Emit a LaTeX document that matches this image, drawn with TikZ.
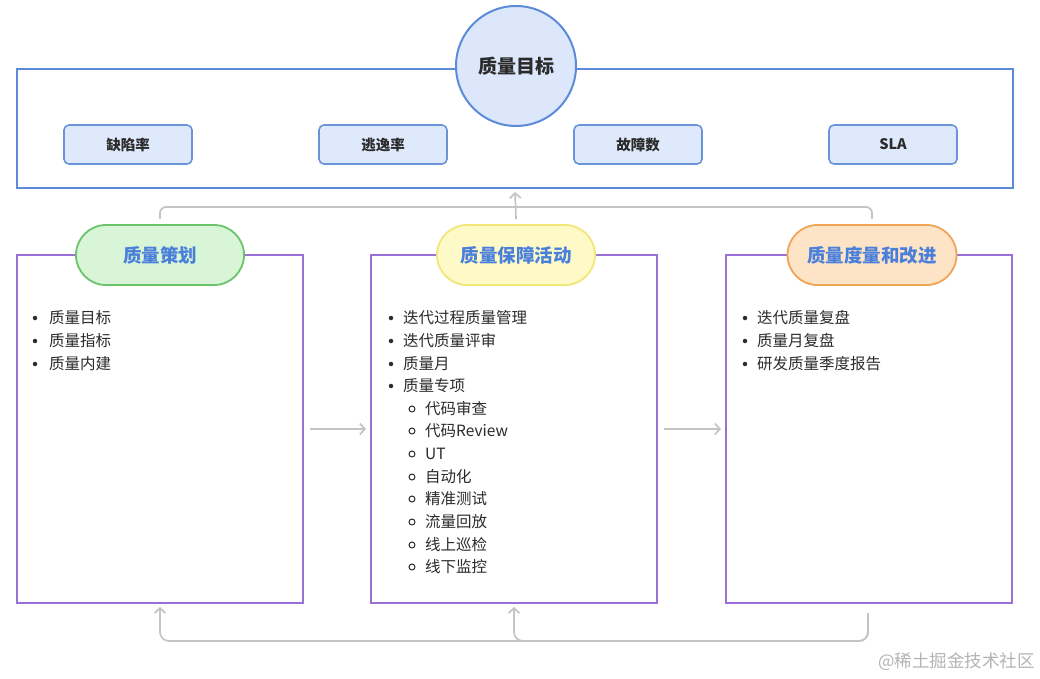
\documentclass[tikz,border=0pt]{standalone}
\usepackage{fontspec}
\setmainfont{Noto Sans CJK SC}
\usetikzlibrary{arrows.meta,calc}
\definecolor{topblue}{HTML}{5B8BD9}
\definecolor{circfill}{HTML}{DCE7FB}
\definecolor{boxfill}{HTML}{DFE9FC}
\definecolor{boxline}{HTML}{6A93DA}
\definecolor{panelline}{HTML}{9A6FD6}
\definecolor{gfill}{HTML}{D9F5D7}
\definecolor{gline}{HTML}{6CC46A}
\definecolor{yfill}{HTML}{FDFAC8}
\definecolor{yline}{HTML}{F1E67A}
\definecolor{ofill}{HTML}{FDE4C7}
\definecolor{oline}{HTML}{EFA556}
\definecolor{pilltext}{HTML}{4A7FDA}
\definecolor{conncol}{HTML}{C4C4C4}
\definecolor{txt}{HTML}{2B2B2B}
\definecolor{wm}{HTML}{B4B4B4}
\tikzset{
  topframe/.style={draw=topblue,line width=2pt,minimum width=996pt,minimum height=119pt,inner sep=0pt},
  goalcircle/.style={circle,draw=topblue,line width=2pt,fill=circfill,minimum size=120pt,inner sep=0pt,font=\fontsize{19pt}{22pt}\selectfont\bfseries,text=txt},
  metric/.style={draw=boxline,line width=1.6pt,fill=boxfill,rounded corners=5pt,minimum width=128pt,minimum height=39pt,inner sep=0pt,font=\fontsize{14.5pt}{17pt}\selectfont\bfseries,text=txt},
  panel/.style={draw=panelline,line width=2pt,minimum width=286pt,minimum height=348pt,inner sep=0pt},
  pill/.style={rounded corners=30pt,line width=1.8pt,minimum height=60pt,inner sep=0pt,font=\fontsize{18.5pt}{22pt}\selectfont\bfseries,text=pilltext},
  item/.style={anchor=west,inner sep=0pt,font=\fontsize{15.5pt}{18pt}\selectfont,text=txt},
  dot/.style={circle,fill=txt,minimum size=4.5pt,inner sep=0pt},
  odot/.style={circle,draw=txt,line width=1pt,minimum size=6pt,inner sep=0pt},
  conn/.style={draw=conncol,line width=1.7pt},
  tip/.style={-{Straight Barb[length=5pt,width=11pt]}},
}
\begin{document}
\begin{tikzpicture}[x=1pt,y=-1pt]
\useasboundingbox[fill=white] (0,0) rectangle (1040,678);
% top frame
\node[topframe] (topbox) at (515,128.5) {};
\node[goalcircle] (goal) at (516,66) {质量目标};
\node[metric] (m1) at (128,144.5) {缺陷率};
\node[metric] (m2) at (383,144.5) {逃逸率};
\node[metric] (m3) at (638,144.5) {故障数};
\node[metric] (m4) at (893,144.5) {SLA};
% panels
\node[panel] (lpanel) at (160,429) {};
\node[panel] (mpanel) at (514,429) {};
\node[panel] (rpanel) at (869,429) {};
% pills
\node[pill,draw=gline,fill=gfill,minimum width=168pt] (lpill) at (160,255) {质量策划};
\node[pill,draw=yline,fill=yfill,minimum width=158pt] (mpill) at (516,255) {质量保障活动};
\node[pill,draw=oline,fill=ofill,minimum width=169pt] (rpill) at (872,255) {质量度量和改进};
% left list
\node[dot] (lb1) at (35,318) {}; \node[item] (l1) at (49,318) {质量目标};
\node[dot] (lb2) at (35,341) {}; \node[item] (l2) at (49,341) {质量指标};
\node[dot] (lb3) at (35,364) {}; \node[item] (l3) at (49,364) {质量内建};
% middle list
\node[dot] (mb1) at (391,318) {}; \node[item] (i1) at (403,318) {迭代过程质量管理};
\node[dot] (mb2) at (391,341) {}; \node[item] (i2) at (403,341) {迭代质量评审};
\node[dot] (mb3) at (391,364) {}; \node[item] (i3) at (403,364) {质量月};
\node[dot] (mb4) at (391,386) {}; \node[item] (i4) at (403,386) {质量专项};
\node[odot] (sb1) at (412,409) {}; \node[item] (s1) at (425,409) {代码审查};
\node[odot] (sb2) at (412,431) {}; \node[item] (s2) at (425,431) {代码Review};
\node[odot] (sb3) at (412,454) {}; \node[item] (s3) at (425,454) {UT};
\node[odot] (sb4) at (412,477) {}; \node[item] (s4) at (425,477) {自动化};
\node[odot] (sb5) at (412,499) {}; \node[item] (s5) at (425,499) {精准测试};
\node[odot] (sb6) at (412,522) {}; \node[item] (s6) at (425,522) {流量回放};
\node[odot] (sb7) at (412,545) {}; \node[item] (s7) at (425,545) {线上巡检};
\node[odot] (sb8) at (412,567) {}; \node[item] (s8) at (425,567) {线下监控};
% right list
\node[dot] (rb1) at (745,318) {}; \node[item] (r1) at (757,318) {迭代质量复盘};
\node[dot] (rb2) at (745,341) {}; \node[item] (r2) at (757,341) {质量月复盘};
\node[dot] (rb3) at (745,364) {}; \node[item] (r3) at (757,364) {研发质量季度报告};
% connectors
\coordinate (jt) at (516,207);
\draw[conn,rounded corners=6pt] ([yshift=5pt]lpill.north) |- (jt) -| ([yshift=5pt]rpill.north);
\draw[conn,tip] ([yshift=5pt]mpill.north) -- ([yshift=-3pt]topbox.south);
\draw[conn,tip] ([xshift=6pt]lpanel.east) -- ([xshift=-4pt]mpanel.west);
\draw[conn,tip] ([xshift=6pt]rpanel.west -| mpanel.east) -- ([xshift=-4pt]rpanel.west);
\coordinate (rs) at ([xshift=-1pt,yshift=-9pt]rpanel.south);
\coordinate (jb) at (514,641);
\draw[conn,rounded corners=9pt,tip] (rs) |- (jb) -- ([yshift=-3pt]mpanel.south);
\draw[conn,rounded corners=9pt,tip] (rs) |- (160,641) -- ([yshift=-3pt]lpanel.south);
% watermark
\node[anchor=east,inner sep=0pt,text=wm,font=\fontsize{17.5pt}{20pt}\selectfont] (wmk) at (1035,662) {@稀土掘金技术社区};
\end{tikzpicture}
\end{document}
